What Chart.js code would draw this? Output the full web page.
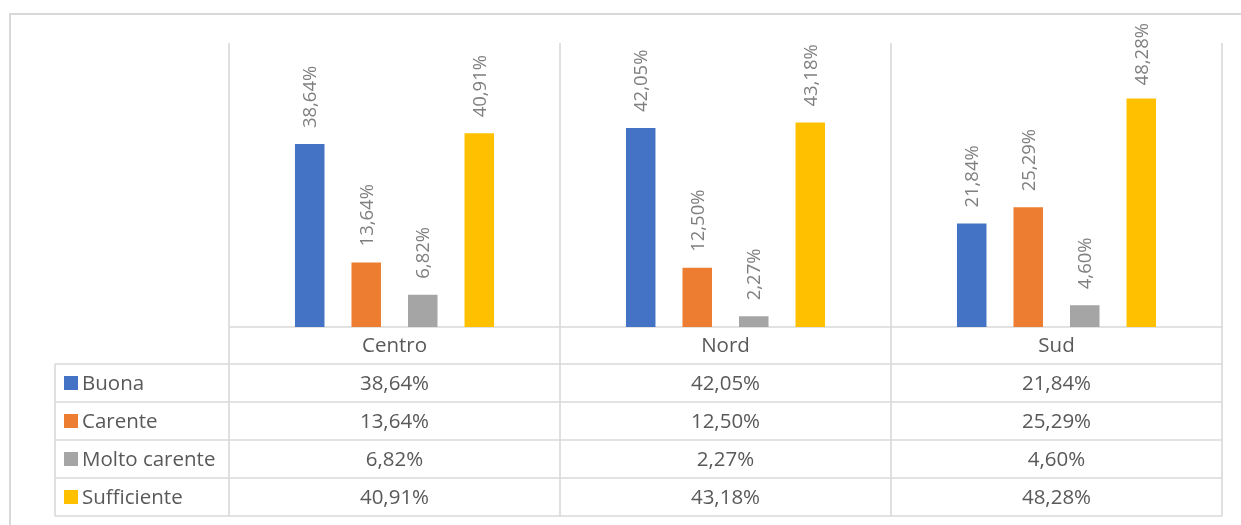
<!DOCTYPE html>
<html>
<head>
<meta charset="utf-8">
<script src="https://cdn.jsdelivr.net/npm/chart.js@4.4.1/dist/chart.umd.min.js"></script>
<style>
  html, body { margin: 0; padding: 0; background: #ffffff; }
  #chart { display: block; }
</style>
</head>
<body>
<canvas id="chart" width="1241" height="525"></canvas>
<script>
// data
const regions = ["Centro", "Nord", "Sud"];
const buona = [38.64, 42.05, 21.84];
const carente = [13.64, 12.50, 25.29];
const moltoCarente = [6.82, 2.27, 4.60];
const sufficiente = [40.91, 43.18, 48.28];
const seriesNames = ["Buona", "Carente", "Molto carente", "Sufficiente"];
const seriesColors = ["#4472C4", "#ED7D31", "#A5A5A5", "#FFC000"];

const FONT = "'Open Sans', 'Liberation Sans', sans-serif";
const LINE = "#D9D9D9";
const fmt = (v) => v.toFixed(2).replace(".", ",") + "%";

// rotated value labels above the bars
const barLabels = {
  id: "barLabels",
  afterDatasetsDraw(chart) {
    const ctx = chart.ctx;
    ctx.save();
    ctx.font = "18.5px " + FONT;
    ctx.fillStyle = "#7F7F7F";
    ctx.textAlign = "left";
    ctx.textBaseline = "middle";
    chart.data.datasets.forEach((ds, di) => {
      chart.getDatasetMeta(di).data.forEach((bar, i) => {
        const txt = fmt(ds.data[i]);
        const w = ctx.measureText(txt).width;
        let start = bar.y - 16;
        if (start - w < 23) start = 23 + w;
        ctx.save();
        ctx.translate(bar.x, start);
        ctx.rotate(-Math.PI / 2);
        ctx.fillText(txt, 0, 1);
        ctx.restore();
      });
    });
    ctx.restore();
  }
};

// frame, grid and data table under the plot
const dataTable = {
  id: "dataTable",
  beforeDatasetsDraw(chart) {
    const ctx = chart.ctx;
    const area = chart.chartArea;
    const x = chart.scales.x;
    const half = (x.getPixelForValue(1) - x.getPixelForValue(0)) / 2;
    const rowH = 38;
    const headTop = area.bottom;
    const headBottom = headTop + 37;
    const tableBottom = headBottom + rowH * seriesNames.length;
    const legLeft = 55;

    ctx.save();
    ctx.strokeStyle = LINE;
    ctx.lineWidth = 2;
    // outer chart border
    ctx.strokeRect(10, 14, 1260, 540);

    ctx.lineWidth = 1.6;
    ctx.beginPath();
    // vertical lines at category bounds
    const bounds = [];
    regions.forEach((r, i) => bounds.push(x.getPixelForValue(i) - half));
    bounds.push(x.getPixelForValue(regions.length - 1) + half);
    bounds.forEach((bx) => {
      ctx.moveTo(bx, area.top);
      ctx.lineTo(bx, tableBottom);
    });
    ctx.moveTo(legLeft, headBottom);
    ctx.lineTo(legLeft, tableBottom);
    // horizontal lines
    ctx.moveTo(bounds[0], headTop);
    ctx.lineTo(bounds[bounds.length - 1], headTop);
    for (let r = 0; r <= seriesNames.length; r++) {
      const y = headBottom + r * rowH;
      ctx.moveTo(legLeft, y);
      ctx.lineTo(bounds[bounds.length - 1], y);
    }
    ctx.stroke();

    ctx.font = "20.5px " + FONT;
    ctx.fillStyle = "#595959";
    ctx.textBaseline = "middle";
    ctx.textAlign = "center";
    regions.forEach((r, i) => {
      ctx.fillText(r, x.getPixelForValue(i), (headTop + headBottom) / 2 + 1);
    });
    chart.data.datasets.forEach((ds, di) => {
      const cy = headBottom + di * rowH + rowH / 2 + 1;
      ctx.fillStyle = seriesColors[di];
      ctx.fillRect(64, cy - 8, 14, 14);
      ctx.fillStyle = "#595959";
      ctx.textAlign = "left";
      ctx.fillText(ds.label, 82, cy);
      ctx.textAlign = "center";
      ds.data.forEach((v, i) => {
        ctx.fillText(fmt(v), x.getPixelForValue(i), cy);
      });
    });
    ctx.restore();
  }
};

const seriesData = [buona, carente, moltoCarente, sufficiente];

new Chart(document.getElementById("chart").getContext("2d"), {
  type: "bar",
  data: {
    labels: regions,
    datasets: seriesNames.map((name, i) => ({
      label: name,
      data: seriesData[i],
      backgroundColor: seriesColors[i],
      borderWidth: 0,
      categoryPercentage: 0.683,
      barPercentage: 0.522,
    })),
  },
  options: {
    responsive: false,
    animation: false,
    layout: { padding: { left: 229, right: 19, top: 43, bottom: 198 } },
    plugins: {
      legend: { display: false },
      tooltip: { enabled: false },
    },
    scales: {
      x: { display: false },
      y: { display: false, min: 0, max: 60 },
    },
  },
  plugins: [dataTable, barLabels],
});
</script>
</body>
</html>
